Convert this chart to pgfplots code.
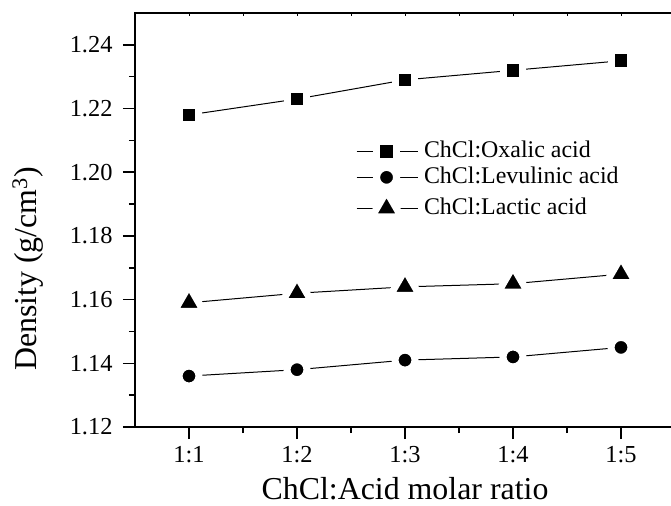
\documentclass[border=0pt]{standalone}
\usepackage{fontspec}
\setmainfont{Liberation Serif}
\usepackage{pgfplots}
\pgfplotsset{compat=1.18}

\begin{document}
\begin{tikzpicture}
\pgfplotsset{
  halo/.style={mark options={solid, draw=white, fill=black, line width=7bp}},
}
\begin{axis}[
  name=ax, at={(0,0)}, anchor=south west,
  scale only axis, width=540bp, height=414bp,
  xmin=0.5, xmax=5.5, ymin=1.12, ymax=1.25,
  xtick={1,2,3,4,5}, xticklabels={1:1,1:2,1:3,1:4,1:5},
  ytick={1.12,1.14,1.16,1.18,1.20,1.22,1.24},
  minor x tick num=1, minor y tick num=1,
  xtick pos=left, ytick pos=left,
  tick align=outside, major tick length=12bp, minor tick length=6bp,
  axis line style={line width=1.5bp}, tick style={line width=1.5bp, black},
  /pgf/number format/assume math mode=true,
  yticklabel style={/pgf/number format/fixed, /pgf/number format/precision=2,
    /pgf/number format/fixed zerofill, font=\fontsize{24.5}{26}\selectfont},
  xticklabel style={font=\fontsize{24.5}{26}\selectfont},
  yticklabel shift=7bp, xticklabel shift=4bp,
  xlabel={ChCl:Acid molar ratio}, ylabel={Density (g/cm\textsuperscript{3})},
  label style={font=\fontsize{32}{34}\selectfont},
  xlabel style={inner ysep=0pt, text depth=0pt}, xlabel shift=11bp, ylabel shift=20bp,
  ylabel style={at={(ticklabel cs:0.382)}},
  legend cell align=left,
  legend style={draw=none, fill=none, at={(axis description cs:0.409,0.597)}, anchor=west,
    font=\fontsize{24}{26}\selectfont, inner sep=0pt, row sep=2bp,
    nodes={inner ysep=1bp, text height=17bp, text depth=5bp}},
  legend image code/.code={
    \draw[#1, mark repeat=2, mark phase=2] plot coordinates {(0bp,0bp) (30bp,0bp) (61bp,0bp)};
    \path (65bp,0bp);},
]
\addplot[black, line width=1bp, mark=square*, mark size=9.8bp, halo] coordinates {
(1,1.218) (2,1.223) (3,1.229) (4,1.232) (5,1.235)};
\addlegendentry{ChCl:Oxalic acid}
\addplot[black, line width=1bp, mark=*, mark size=10bp, halo] coordinates {
(1,1.136) (2,1.138) (3,1.141) (4,1.142) (5,1.145)};
\addlegendentry{ChCl:Levulinic acid}
\addplot[black, line width=1bp, mark=triangle*, mark size=17bp, halo] coordinates {
(1,1.159) (2,1.162) (3,1.164) (4,1.165) (5,1.168)};
\addlegendentry{ChCl:Lactic acid}
\end{axis}
% small inward ticks on the top edge
\begin{axis}[
  at={(0,0)}, anchor=south west,
  scale only axis, width=540bp, height=414bp,
  xmin=0.5, xmax=5.5, ymin=1.12, ymax=1.25,
  axis x line*=top, hide y axis,
  xtick={1,2,3,4,5}, xticklabels={}, minor x tick num=1,
  tick align=inside, major tick length=3bp, minor tick length=3bp,
  axis line style={line width=1.5bp}, tick style={line width=1bp, black},
]
\addplot[draw=none] coordinates {(1,1.2) (5,1.2)};
\end{axis}
\pgfresetboundingbox
\path[use as bounding box] ([xshift=-135bp,yshift=-79bp]ax.south west) rectangle ([xshift=-4bp,yshift=13bp]ax.north east);
\end{tikzpicture}
\end{document}
